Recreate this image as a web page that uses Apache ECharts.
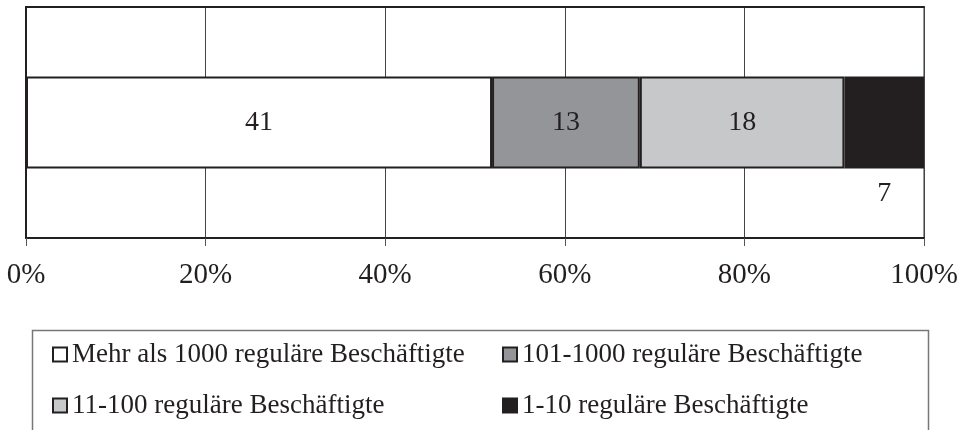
<!DOCTYPE html>
<html>
<head>
<meta charset="utf-8">
<script src="https://cdn.jsdelivr.net/npm/echarts@6/dist/echarts.min.js"></script>
<style>
  html, body { margin: 0; padding: 0; background: #fff; }
  #main { width: 966px; height: 430px; }
</style>
</head>
<body>
<div id="main"></div>
<script>
  // Betriebsgrößen (Anzahl), als 100%-Balken gestapelt
  var categories = [''];
  var seriesNames = [
    'Mehr als 1000 reguläre Beschäftigte',
    '101-1000 reguläre Beschäftigte',
    '11-100 reguläre Beschäftigte',
    '1-10 reguläre Beschäftigte'
  ];
  var seriesValues = [41, 13, 18, 7];
  var seriesColors = ['#ffffff', '#939598', '#c7c8ca', '#231f20'];
  var labelPositions = ['inside', 'inside', 'inside', 'bottom'];

  var total = seriesValues.reduce(function (a, b) { return a + b; }, 0);
  var ink = '#231f20';
  var font = 'Liberation Serif';

  var series = [];
  seriesNames.forEach(function (name, i) {
    series.push({
      name: name,
      type: 'bar',
      stack: 'all',
      barWidth: 92,
      data: [seriesValues[i] / total * 100],
      itemStyle: {
        color: seriesColors[i],
        borderColor: ink,
        borderWidth: 2
      },
      label: {
        show: true,
        position: labelPositions[i],
        distance: 11,
        color: ink,
        fontFamily: font,
        fontSize: 28,
        formatter: function () { return seriesValues[i]; }
      },
      emphasis: { disabled: true }
    });
  });

  var myChart = echarts.init(document.getElementById('main'));
  var option = {
    animation: false,
    backgroundColor: '#fff',
    textStyle: { fontFamily: font, color: ink },
    grid: {
      left: 26,
      right: 42,
      top: 7,
      bottom: 192,
      show: true,
      borderColor: '#777',
      borderWidth: 1.5
    },
    xAxis: [{
      type: 'value',
      min: 0,
      max: 100,
      interval: 20,
      axisLine: { show: true, lineStyle: { color: ink, width: 2 } },
      axisTick: { show: true, length: 8, lineStyle: { color: '#555', width: 1 } },
      axisLabel: {
        color: ink,
        fontFamily: font,
        fontSize: 29,
        margin: 23,
        formatter: '{value}%'
      },
      splitLine: { show: true, lineStyle: { color: '#444', width: 1 } }
    }, {
      // obere Rahmenlinie
      type: 'value',
      position: 'top',
      min: 0,
      max: 100,
      axisLine: { show: true, lineStyle: { color: ink, width: 2 } },
      axisTick: { show: false },
      axisLabel: { show: false },
      splitLine: { show: false }
    }],
    yAxis: {
      type: 'category',
      data: categories,
      axisLine: { show: true, lineStyle: { color: ink, width: 2 } },
      axisTick: { show: false },
      axisLabel: { show: false }
    },
    legend: [{
      data: [seriesNames[0], seriesNames[2]],
      orient: 'vertical',
      left: 52,
      top: 340,
      padding: 0,
      itemGap: 22,
      itemWidth: 14,
      itemHeight: 14,
      icon: 'rect',
      textStyle: { color: ink, fontFamily: font, fontSize: 27, lineHeight: 29 }
    }, {
      data: [seriesNames[1], seriesNames[3]],
      orient: 'vertical',
      left: 502,
      top: 340,
      padding: 0,
      itemGap: 22,
      itemWidth: 14,
      itemHeight: 14,
      icon: 'rect',
      textStyle: { color: ink, fontFamily: font, fontSize: 27, lineHeight: 29 }
    }],
    graphic: [{
      type: 'rect',
      left: 30,
      top: 328,
      z: -1,
      shape: { width: 896, height: 130 },
      style: { fill: 'none', stroke: '#777', lineWidth: 1.5 }
    }],
    series: series
  };
  myChart.setOption(option);
</script>
</body>
</html>
